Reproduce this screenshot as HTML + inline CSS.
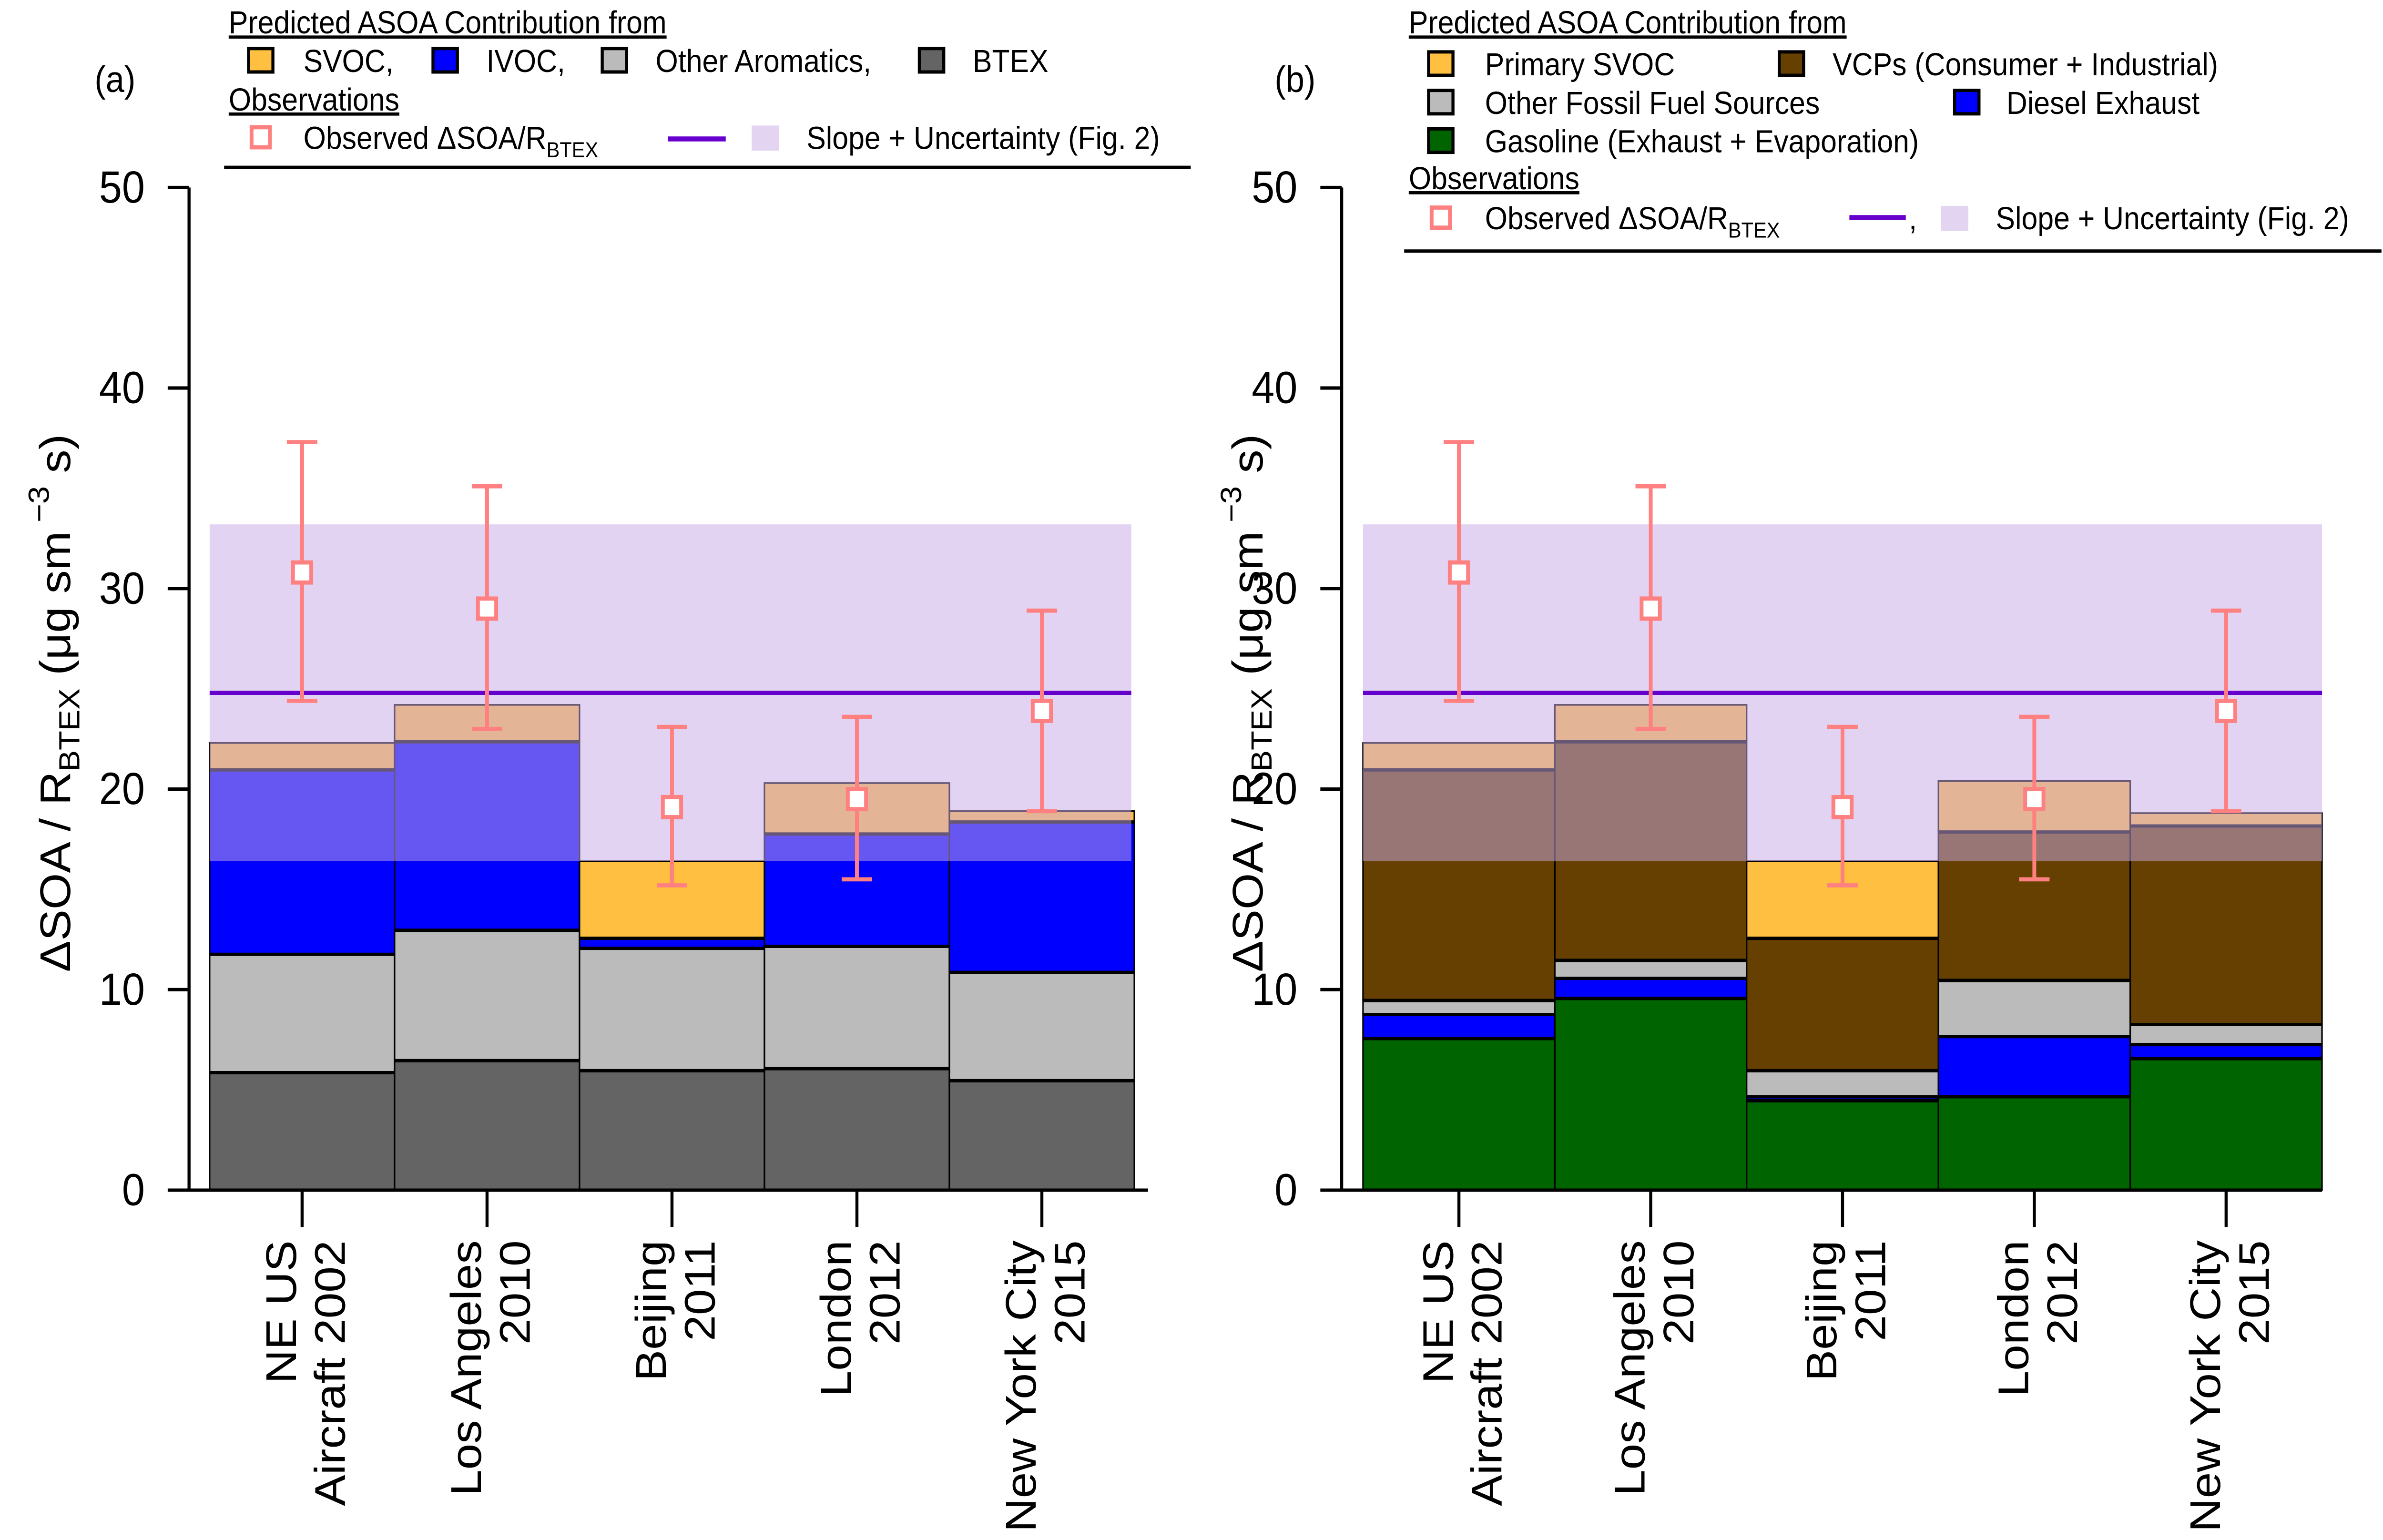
<!DOCTYPE html>
<html><head><meta charset="utf-8"><style>
html,body{margin:0;padding:0;background:#fff;width:100vw;height:100vh;overflow:hidden}
svg{display:block;position:absolute;left:0;top:0;width:100vw;height:100vh;font-family:"Liberation Sans",Arial,sans-serif}
</style></head><body>
<svg id="chart" viewBox="0 0 1563 920" preserveAspectRatio="none" xmlns="http://www.w3.org/2000/svg">
<g font-size="19">
<text x="62" y="55" font-size="22">(a)</text>
<text x="150" y="20" text-decoration="underline">Predicted ASOA Contribution from</text>
<rect x="163" y="29" width="16" height="14" fill="#FFBF40" stroke="#000" stroke-width="2"/>
<text x="199" y="43">SVOC,</text>
<rect x="284" y="29" width="16" height="14" fill="#0000FF" stroke="#000" stroke-width="2"/>
<text x="319" y="43">IVOC,</text>
<rect x="395" y="29" width="16" height="14" fill="#BBBBBB" stroke="#000" stroke-width="2"/>
<text x="430" y="43">Other Aromatics,</text>
<rect x="603" y="29" width="16" height="14" fill="#646464" stroke="#000" stroke-width="2"/>
<text x="638" y="43">BTEX</text>
<text x="150" y="66" text-decoration="underline">Observations</text>
<rect x="165" y="76" width="12" height="12" fill="#fff" stroke="#FF8080" stroke-width="2.5"/>
<text x="199" y="89">Observed ΔSOA/R<tspan font-size="13" dy="5">BTEX</tspan></text>
<line x1="438" y1="83" x2="476" y2="83" stroke="#6600CC" stroke-width="3"/>
<rect x="493" y="75" width="18" height="15" fill="rgb(227,213,242)"/>
<text x="529" y="89">Slope + Uncertainty (Fig. 2)</text>
<line x1="147" y1="100" x2="781" y2="100" stroke="#000" stroke-width="2"/>
</g>
<g font-size="19">
<text x="836" y="55" font-size="22">(b)</text>
<text x="924" y="20" text-decoration="underline">Predicted ASOA Contribution from</text>
<rect x="937" y="31" width="16" height="14" fill="#FFBF40" stroke="#000" stroke-width="2"/>
<text x="974" y="45">Primary SVOC</text>
<rect x="1167" y="31" width="16" height="14" fill="#664000" stroke="#000" stroke-width="2"/>
<text x="1202" y="45">VCPs (Consumer + Industrial)</text>
<rect x="937" y="54" width="16" height="14" fill="#BBBBBB" stroke="#000" stroke-width="2"/>
<text x="974" y="68">Other Fossil Fuel Sources</text>
<rect x="1282" y="54" width="16" height="14" fill="#0000FF" stroke="#000" stroke-width="2"/>
<text x="1316" y="68">Diesel Exhaust</text>
<rect x="937" y="77" width="16" height="14" fill="#006400" stroke="#000" stroke-width="2"/>
<text x="974" y="91">Gasoline (Exhaust + Evaporation)</text>
<text x="924" y="113" text-decoration="underline">Observations</text>
<rect x="939" y="124" width="12" height="12" fill="#fff" stroke="#FF8080" stroke-width="2.5"/>
<text x="974" y="137">Observed ΔSOA/R<tspan font-size="13" dy="5">BTEX</tspan></text>
<line x1="1213" y1="130" x2="1250" y2="130" stroke="#6600CC" stroke-width="3"/>
<text x="1252" y="137">,</text>
<rect x="1273" y="123" width="18" height="15" fill="rgb(227,213,242)"/>
<text x="1309" y="137">Slope + Uncertainty (Fig. 2)</text>
<line x1="921" y1="150" x2="1562" y2="150" stroke="#000" stroke-width="2"/>
</g>
<g id="plots"></g>
</svg>
<script>
const categories = [["NE US","Aircraft 2002"],["Los Angeles","2010"],["Beijing","2011"],["London","2012"],["New York City","2015"]];
const yTicks = [0,10,20,30,40,50];
const btexA = [5.9, 6.5, 6.0, 6.1, 5.5];
const otherAromA = [5.9, 6.5, 6.1, 6.1, 5.4];
const ivocA = [9.2, 9.4, 0.5, 5.6, 7.5];
const svocA = [1.3, 1.8, 3.8, 2.5, 0.5];
const gasolineB = [7.6, 9.6, 4.5, 4.7, 6.6];
const dieselB = [1.2, 1.0, 0.2, 3.0, 0.7];
const otherFossilB = [0.7, 0.9, 1.3, 2.8, 1.0];
const vcpB = [11.5, 10.9, 6.6, 7.4, 9.9];
const svocB = [1.3, 1.8, 3.8, 2.5, 0.6];
const obsMean = [30.8, 29.0, 19.1, 19.5, 23.9];
const obsLow = [24.4, 23.0, 15.2, 15.5, 18.9];
const obsHigh = [37.3, 35.1, 23.1, 23.6, 28.9];
const slope = 24.8;
const slopeLow = 16.4;
const slopeHigh = 33.2;

const NS = "http://www.w3.org/2000/svg";
const root = document.getElementById('plots');
function mk(tag, attrs, parent){
  const e = document.createElementNS(NS, tag);
  for (const k in attrs) e.setAttribute(k, attrs[k]);
  (parent||root).appendChild(e);
  return e;
}
const y0 = 711, pxPerUnit = 11.98;
function yScale(v){ return y0 - v*pxPerUnit; }

function panel(cfg){
  const g = mk('g', {});
  
  
  const bw = (cfg.x1 - cfg.x0)/categories.length;
  const xC = i => cfg.x0 + bw*(i+0.5);
  categories.forEach((c,i)=>{
    let base = 0;
    cfg.series.forEach((s,si)=>{
      const v = s.data[i];
      const r = mk('rect', {x: cfg.x0+bw*i, y: yScale(base+v), width: bw, height: v*pxPerUnit, fill: s.color, stroke:'#000', 'stroke-width':1}, g);
      
      
      base += v;
      if (si < cfg.series.length-1) {
        const l = mk('line', {x1: cfg.x0+bw*i, x2: cfg.x0+bw*(i+1), y1: yScale(base), y2: yScale(base), stroke:'#000', 'stroke-width':3}, g);
        
        
      }
    });
  });
  const band = mk('rect', {x: cfg.x0, y: yScale(slopeHigh), width: cfg.bandEnd-cfg.x0, height: (slopeHigh-slopeLow)*pxPerUnit, fill:'rgb(200,169,229)', 'fill-opacity':0.514}, g);
  
  
  const sl = mk('line', {x1: cfg.x0, x2: cfg.bandEnd, y1: yScale(slope), y2: yScale(slope), stroke:'#6600CC', 'stroke-width':2.5}, g);
  
  
  const ya = mk('line', {x1: cfg.ax, x2: cfg.ax, y1: yScale(50), y2: y0, stroke:'#000', 'stroke-width':2}, g);
  
  
  const xa = mk('line', {x1: cfg.ax, x2: cfg.axEnd, y1: y0, y2: y0, stroke:'#000', 'stroke-width':2}, g);
  
  
  yTicks.forEach(t=>{
    const tk = mk('line', {x1: cfg.ax-14, x2: cfg.ax, y1: yScale(t), y2: yScale(t), stroke:'#000', 'stroke-width':2}, g);
    
    
    const tl = mk('text', {x: cfg.ax-29, y: yScale(t)+9, 'text-anchor':'end', 'font-size':27}, g);
    tl.textContent = t;
    
    
  });
  categories.forEach((c,i)=>{
    const tk = mk('line', {x1: xC(i), x2: xC(i), y1: y0, y2: y0+22, stroke:'#000', 'stroke-width':2}, g);
    
    
    const t = mk('text', {transform:`translate(${xC(i)-4},741) rotate(-90)`, 'text-anchor':'end', 'font-size':28}, g);
    
    
    const t1 = mk('tspan', {x:0, y:0}, t); t1.textContent = c[0];
    const t2 = mk('tspan', {x:0, y:32}, t); t2.textContent = c[1];
  });
  const yt = mk('text', {transform:`translate(${cfg.titleX},420) rotate(-90)`, 'text-anchor':'middle', 'font-size':28}, g);
  
  
  yt.innerHTML = 'ΔSOA / R<tspan font-size="19" dy="6">BTEX</tspan><tspan dy="-6"> (μg sm</tspan><tspan font-size="19" dy="-14"> −3</tspan><tspan dy="14"> s)</tspan>';
  categories.forEach((c,i)=>{
    const eb = mk('line', {x1: xC(i), x2: xC(i), y1: yScale(obsLow[i]), y2: yScale(obsHigh[i]), stroke:'#FF8080', 'stroke-width':2.5}, g);
    
    
    [obsLow[i], obsHigh[i]].forEach(v=>{
      const cap = mk('line', {x1: xC(i)-10, x2: xC(i)+10, y1: yScale(v), y2: yScale(v), stroke:'#FF8080', 'stroke-width':2.5}, g);
      
      
    });
    const m = mk('rect', {x: xC(i)-6, y: yScale(obsMean[i])-6, width:12, height:12, fill:'#fff', stroke:'#FF8080', 'stroke-width':2.5}, g);
    
    
  });
}

panel({name:'panel-a', x0:137.5, x1:744, bandEnd:742, ax:124, axEnd:753, titleX:46,
  series:[{key:'btex',data:btexA,color:'#646464'},{key:'other-aromatics',data:otherAromA,color:'#BBBBBB'},{key:'ivoc',data:ivocA,color:'#0000FF'},{key:'svoc',data:svocA,color:'#FFBF40'}]});
panel({name:'panel-b', x0:894, x1:1523, bandEnd:1523, ax:880, axEnd:1523, titleX:828,
  series:[{key:'gasoline',data:gasolineB,color:'#006400'},{key:'diesel',data:dieselB,color:'#0000FF'},{key:'other-fossil',data:otherFossilB,color:'#BBBBBB'},{key:'vcps',data:vcpB,color:'#664000'},{key:'primary-svoc',data:svocB,color:'#FFBF40'}]});
</script>
</body></html>
